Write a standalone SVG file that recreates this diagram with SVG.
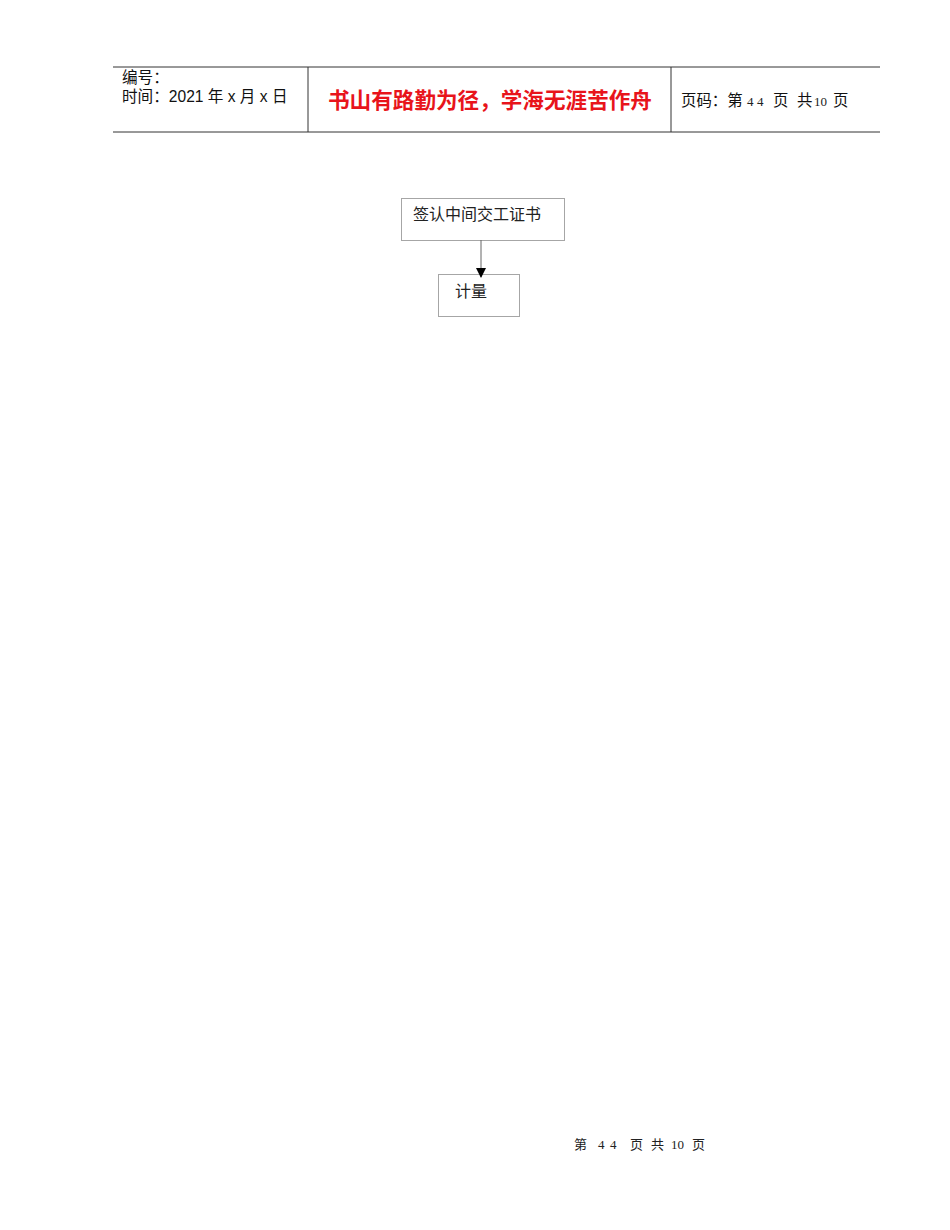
<svg xmlns="http://www.w3.org/2000/svg" width="950" height="1230" viewBox="0 0 950 1230">
<style>
.hdr{stroke:#333;stroke-width:1;fill:none}
.box{fill:#fff;stroke:#a6a6a6;stroke-width:1}
.t{font-family:"Liberation Sans","Noto Sans CJK SC",sans-serif;fill:#111}
.s{font-family:"Liberation Serif","Noto Sans CJK SC",serif;fill:#222}
</style>
<defs>
<marker id="arr" markerWidth="10" markerHeight="10" refX="9" refY="5" orient="auto" markerUnits="userSpaceOnUse">
<path d="M0,0 L10,5 L0,10 z" fill="#000"/>
</marker>
</defs>
<rect width="950" height="1230" fill="#fff"/>
<g id="header">
<line class="hdr" x1="113" y1="67" x2="880" y2="67"/>
<line class="hdr" x1="113" y1="132" x2="880" y2="132"/>
<line class="hdr" x1="308" y1="67" x2="308" y2="132"/>
<line class="hdr" x1="671" y1="67" x2="671" y2="132"/>
<text class="t" x="122" y="83" font-size="15.6">编号：</text>
<text class="t" x="122" y="102" font-size="15.6">时间：2021 年 x 月 x 日</text>
<text x="328" y="108" font-size="21.6" font-weight="bold" fill="#e8141b" font-family="'Noto Sans CJK SC',sans-serif">书山有路勤为径，学海无涯苦作舟</text>
<text class="t" y="106" font-size="15.4"><tspan x="681">页码：第</tspan><tspan class="s" x="747" font-size="13">4</tspan><tspan class="s" x="757" font-size="13">4</tspan><tspan x="773">页</tspan><tspan x="797">共</tspan><tspan class="s" x="814" font-size="13">10</tspan><tspan x="833">页</tspan></text>
</g>
<g id="node1">
<rect class="box" x="401.5" y="198.5" width="163" height="42"/>
<text class="s" x="413" y="220" font-size="16">签认中间交工证书</text>
</g>
<g id="node2">
<rect class="box" x="438.5" y="274.5" width="81" height="42"/>
<text class="s" x="455" y="297" font-size="16">计量</text>
</g>
<g id="connectors">
<line x1="481" y1="240" x2="481" y2="277" stroke="#666" stroke-width="1" marker-end="url(#arr)"/>
</g>
<g id="footer">
<text class="s" y="1149" font-size="13"><tspan x="574">第</tspan><tspan x="598">4</tspan><tspan x="610">4</tspan><tspan x="630">页</tspan><tspan x="651">共</tspan><tspan x="671">10</tspan><tspan x="692">页</tspan></text>
</g>
</svg>
